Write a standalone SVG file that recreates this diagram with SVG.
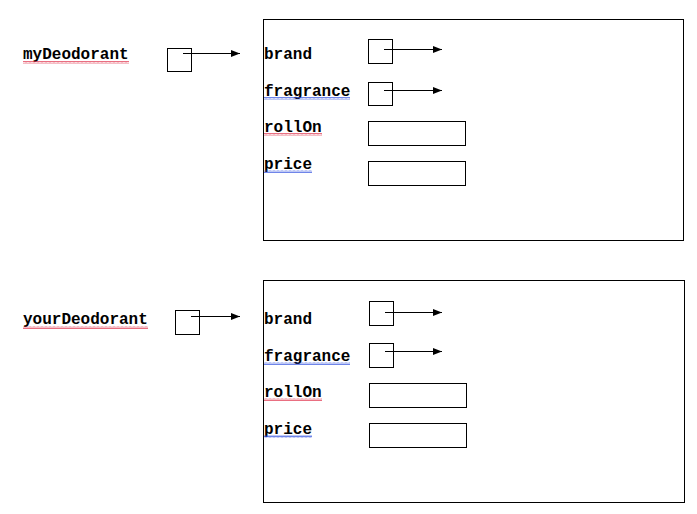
<svg xmlns="http://www.w3.org/2000/svg" width="697" height="514" viewBox="0 0 697 514">
<defs>
<marker id="ah" markerWidth="9" markerHeight="7" refX="9" refY="3.5" orient="auto" markerUnits="userSpaceOnUse"><path d="M0,0 L9,3.5 L0,7 Z" fill="#000"/></marker>
<pattern id="wr" width="4" height="3" patternUnits="userSpaceOnUse"><path d="M0,2.5 L1,0.5 L2,2.5 L3,0.5 L4,2.5" fill="none" stroke="#e0304a" stroke-width="0.7"/></pattern>
<pattern id="wb" width="4" height="3" patternUnits="userSpaceOnUse"><path d="M0,2.5 L1,0.5 L2,2.5 L3,0.5 L4,2.5" fill="none" stroke="#3050e0" stroke-width="0.7"/></pattern>
</defs>
<style>
.t{font-family:"Liberation Mono","Courier New",monospace;font-weight:bold;font-size:16px;fill:#000}
.b{fill:#fff;stroke:#000;stroke-width:1}
.c{stroke:#000;stroke-width:1;fill:none;marker-end:url(#ah)}
</style>
<rect width="697" height="514" fill="#fff"/>
<g id="myDeodorant">
<text class="t" x="23" y="59">myDeodorant</text>
<rect x="23" y="61" width="106" height="3" fill="url(#wr)"/>
<rect class="b" x="167.5" y="48.5" width="24" height="23"/>
</g>
<g id="object1">
<rect class="b" x="263.5" y="19.5" width="420" height="221"/>
<text class="t" x="264" y="59">brand</text>
<rect class="b" x="368.5" y="39.5" width="24" height="24"/>
<text class="t" x="264" y="96">fragrance</text>
<rect x="264" y="97" width="86" height="3" fill="url(#wb)"/>
<rect class="b" x="368.5" y="82.5" width="24" height="23"/>
<text class="t" x="264" y="132">rollOn</text>
<rect x="264" y="133" width="58" height="3" fill="url(#wr)"/>
<rect class="b" x="368.5" y="121.5" width="97" height="24"/>
<text class="t" x="264" y="169">price</text>
<rect x="264" y="170" width="48" height="3" fill="url(#wb)"/>
<rect class="b" x="368.5" y="161.5" width="97" height="24"/>
</g>
<g id="yourDeodorant">
<text class="t" x="23" y="324">yourDeodorant</text>
<rect x="23" y="326" width="125" height="3" fill="url(#wr)"/>
<rect class="b" x="175.5" y="310.5" width="24" height="24"/>
</g>
<g id="object2">
<rect class="b" x="263.5" y="280.5" width="421" height="222"/>
<text class="t" x="264" y="324">brand</text>
<rect class="b" x="369.5" y="301.5" width="24" height="24"/>
<text class="t" x="264" y="361">fragrance</text>
<rect x="264" y="362" width="86" height="3" fill="url(#wb)"/>
<rect class="b" x="369.5" y="343.5" width="24" height="24"/>
<text class="t" x="264" y="397">rollOn</text>
<rect x="264" y="398" width="58" height="3" fill="url(#wr)"/>
<rect class="b" x="369.5" y="383.5" width="97" height="24"/>
<text class="t" x="264" y="434">price</text>
<rect x="264" y="435" width="48" height="3" fill="url(#wb)"/>
<rect class="b" x="369.5" y="423.5" width="97" height="24"/>
</g>
<g id="connectors">
<line class="c" x1="183" y1="53.5" x2="240" y2="53.5"/>
<line class="c" x1="384" y1="49.5" x2="442" y2="49.5"/>
<line class="c" x1="384" y1="90.5" x2="442" y2="90.5"/>
<line class="c" x1="191" y1="316.5" x2="240" y2="316.5"/>
<line class="c" x1="385" y1="312.5" x2="442" y2="312.5"/>
<line class="c" x1="385" y1="351.5" x2="442" y2="351.5"/>
</g>
</svg>
